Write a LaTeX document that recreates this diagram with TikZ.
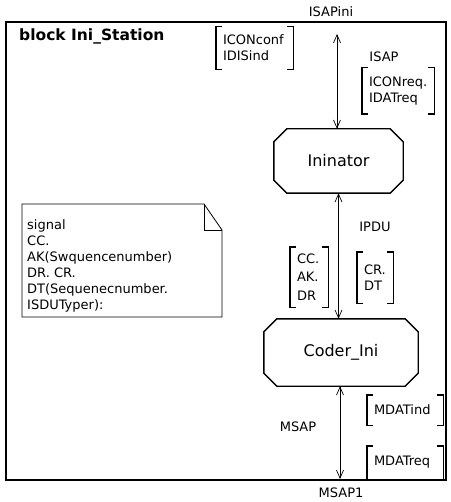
\documentclass[tikz,border=0pt]{standalone}
\usepackage{fontspec}
\setmainfont{DejaVu Sans}
\usetikzlibrary{arrows.meta}
\begin{document}
\begin{tikzpicture}[x=1pt,y=-1pt,
  lbl/.style={font=\fontsize{13}{16}\selectfont, inner sep=0pt},
  brk/.style={lbl, align=left, inner xsep=7pt, inner ysep=0pt},
  brkline/.style={line width=1.4pt},
  procbox/.style={rectangle, inner sep=0pt, font=\fontsize{16}{19}\selectfont},
  boxline/.style={line width=1.4pt, line join=miter},
  noteline/.style={line width=0.8pt},
  chan/.style={line width=0.7pt,
    {Straight Barb[length=8pt,width=7pt]}-{Straight Barb[length=8pt,width=7pt]}},
]
\useasboundingbox (0,0) rectangle (450,502);

% block frame and its title
\node[draw, line width=1.5pt, minimum width=440pt, minimum height=458pt, inner sep=0pt]
  (frame) at (226,251) {};
\node[font=\bfseries\fontsize{15.5}{18}\selectfont, anchor=west, inner sep=0pt]
  (title) at (19,36) {block Ini\_Station};

% gate names outside the frame
\node[lbl] (isapini) at (331,12) {ISAPini};
\node[lbl] (msap1) at (341,493) {MSAP1};

% processes
\node[procbox, minimum width=129pt, minimum height=64pt] (ini) at (338.5,161) {Ininator};
\node[procbox, minimum width=154pt, minimum height=67pt] (coder) at (341,352.5) {Coder\_Ini};
\foreach \n/\c in {ini/13pt, coder/13pt} {
  \draw[boxline]
    ([xshift=\c]\n.north west) -- ([xshift=-\c]\n.north east)
    -- ([yshift=-\c]\n.north east) -- ([yshift=\c]\n.south east)
    -- ([xshift=-\c]\n.south east) -- ([xshift=\c]\n.south west)
    -- ([yshift=\c]\n.south west) -- ([yshift=-\c]\n.north west) -- cycle;
}

% channel names
\node[lbl] (isap) at (384,57) {ISAP};
\node[lbl] (ipdu) at (375,227) {IPDU};
\node[lbl] (msap) at (298,427) {MSAP};

% signal lists
\node[brk, minimum height=43pt, text width=63pt] (b1) at (254.5,48) {ICONconf\\IDISind};
\node[brk, minimum height=46pt, text width=58pt] (b2) at (398,91) {ICONreq.\\IDATreq};
\node[brk, minimum height=60pt, text width=24pt, font=\fontsize{13}{18.5}\selectfont] (b3) at (309,277) {CC.\\AK.\\DR};
\node[brk, minimum height=51pt, text width=22pt, font=\fontsize{13}{16}\selectfont] (b4) at (375,277.5) {CR.\\DT};
\node[brk, minimum height=30pt, text width=62pt] (b5) at (405,410) {MDATind};
\node[brk, minimum height=33pt, text width=62pt] (b6) at (405,462.5) {MDATreq};
\foreach \n in {b1,b2,b3,b4,b5,b6} {
  \draw[brkline] ([xshift=6pt]\n.north west) -- (\n.north west)
    -- (\n.south west) -- ([xshift=6pt]\n.south west);
  \draw[brkline] ([xshift=-6pt]\n.north east) -- (\n.north east)
    -- (\n.south east) -- ([xshift=-6pt]\n.south east);
}

% channels
\coordinate (isapEnd) at (337,34);
\coordinate (msapEnd) at (340,479);
\draw[chan] (isapEnd) -- (isapEnd |- ini.north);
\draw[chan] (ini.south) -- (ini.south |- coder.north);
\draw[chan] (coder.south -| msapEnd) -- (msapEnd);

% signal declaration text symbol
\draw[noteline] (22,204) -- (204,204) -- (222,230) -- (222,317) -- (22,317) -- cycle;
\draw[noteline] (204,204) -- (204,230) -- (222,230);
\node[lbl, align=left, anchor=north west] (sig) at (27,219)
  {signal\\CC.\\AK(Swquencenumber)\\DR. CR.\\DT(Sequenecnumber.\\ISDUTyper):};
\end{tikzpicture}
\end{document}
